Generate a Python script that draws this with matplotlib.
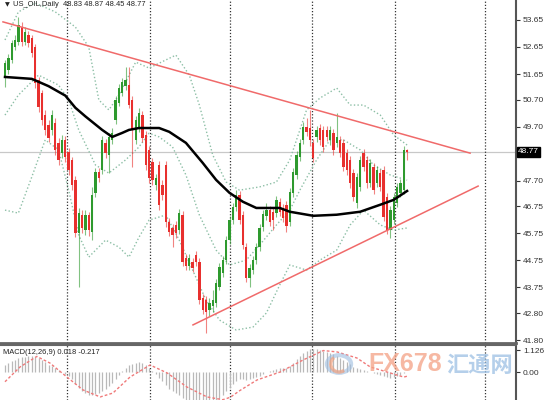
import matplotlib
matplotlib.use("Agg")
import matplotlib.pyplot as plt
from matplotlib.patches import Circle, Arc

plt.rcParams['font.family'] = ['Liberation Sans', 'DejaVu Sans']

# US_OIL daily candles
opens = [51.54, 51.80, 52.17, 52.65, 52.84, 53.39, 52.84, 53.10, 52.98, 52.65,
         51.43, 50.95, 50.14, 49.77, 49.58, 49.84, 49.10, 48.73, 49.21, 48.77,
         48.47, 47.73, 45.77, 46.44, 45.88, 46.44, 45.81, 47.25, 48.03, 48.10,
         49.10, 48.66, 49.21, 49.95, 50.58, 50.95, 51.21, 51.25, 50.69, 49.21,
         49.65, 50.14, 49.40, 48.84, 48.40, 47.55, 48.29, 47.55, 48.29, 46.18,
         45.95, 46.07, 45.88, 46.44, 44.84, 44.55, 44.70, 44.95, 44.70, 43.36,
         43.29, 42.92, 43.07, 43.18, 43.77, 44.29, 44.77, 45.51, 46.25, 46.73,
         47.18, 46.44, 45.25, 44.10, 44.40, 44.77, 45.25, 45.99, 46.40, 46.62,
         46.55, 46.51, 46.92, 46.70, 46.81, 46.18, 47.25, 47.92, 48.58, 49.21,
         49.69, 49.65, 49.10, 49.32, 49.65, 49.58, 49.58, 49.21, 49.47, 49.10,
         49.21, 49.10, 48.73, 48.47, 47.99, 46.88, 47.47, 48.73, 48.47, 47.62,
         48.21, 47.62, 47.99, 48.10, 47.10, 45.88, 46.25, 46.88, 47.25, 47.36,
         48.83]
highs = [52.17, 52.39, 52.91, 53.10, 53.76, 53.58, 53.39, 53.24, 53.10, 52.76,
         51.54, 51.06, 50.32, 49.95, 50.32, 50.02, 49.28, 49.40, 49.36, 48.91,
         48.58, 47.88, 46.69, 46.62, 46.62, 46.55, 47.47, 48.17, 48.17, 49.36,
         49.25, 49.47, 49.65, 50.84, 51.28, 51.50, 51.91, 51.91, 50.84, 50.10,
         50.40, 50.28, 49.54, 48.99, 48.55, 47.95, 48.43, 47.73, 48.43, 46.32,
         46.10, 46.21, 46.66, 46.58, 44.99, 44.99, 44.84, 45.10, 44.84, 43.51,
         43.44, 43.36, 43.66, 44.07, 44.66, 44.92, 45.66, 46.40, 46.88, 47.36,
         47.32, 46.58, 45.40, 44.62, 44.92, 45.40, 46.10, 46.62, 46.88, 46.77,
         46.69, 47.14, 47.07, 46.84, 46.95, 47.43, 48.17, 48.80, 49.25, 49.88,
         50.02, 50.32, 49.25, 49.73, 49.80, 49.73, 49.73, 49.73, 49.62, 50.21,
         49.36, 49.25, 48.88, 48.62, 48.14, 47.99, 48.62, 48.88, 48.62, 48.51,
         48.36, 48.25, 48.14, 48.25, 47.25, 46.77, 47.25, 47.62, 47.77, 48.99,
         48.87]
lows = [51.17, 51.65, 52.06, 52.54, 52.72, 52.69, 52.72, 52.65, 52.28, 51.13,
        50.25, 49.76, 49.40, 49.14, 49.40, 48.66, 48.29, 48.55, 48.40, 47.92,
        47.36, 45.62, 43.77, 45.77, 45.70, 45.66, 45.51, 47.10, 47.66, 47.95,
        48.55, 47.99, 49.06, 49.80, 50.47, 50.84, 51.06, 50.40, 48.21, 49.06,
        49.51, 49.14, 48.10, 47.62, 47.55, 47.36, 46.62, 46.99, 45.99, 45.66,
        45.25, 45.58, 45.73, 44.55, 44.40, 44.40, 44.33, 44.55, 43.14, 42.77,
        42.07, 42.70, 42.85, 43.03, 43.66, 44.14, 44.62, 45.36, 46.10, 46.58,
        46.10, 45.18, 43.96, 43.77, 44.25, 44.62, 45.10, 45.84, 46.25, 46.03,
        45.88, 46.36, 46.40, 46.18, 45.81, 46.03, 47.10, 47.77, 48.43, 49.06,
        49.36, 48.99, 48.40, 49.14, 49.03, 48.77, 49.17, 49.03, 48.66, 48.95,
        48.58, 48.06, 47.92, 47.43, 46.95, 46.69, 47.32, 48.06, 47.43, 47.47,
        47.21, 47.47, 47.32, 46.21, 45.73, 45.58, 46.10, 46.73, 47.10, 47.21,
        48.45]
closes = [52.06, 52.24, 52.80, 52.91, 53.47, 52.84, 53.21, 52.80, 52.43, 51.32,
          50.43, 49.95, 49.58, 49.28, 50.14, 48.84, 48.47, 49.21, 48.58, 48.10,
          47.55, 45.77, 46.51, 45.95, 46.44, 45.88, 47.18, 48.03, 47.80, 49.21,
          48.73, 49.32, 49.47, 50.69, 51.13, 51.36, 51.43, 50.51, 49.58, 49.95,
          50.21, 49.28, 48.29, 47.80, 47.73, 47.80, 46.81, 47.18, 46.18, 45.81,
          45.70, 45.77, 46.51, 44.70, 44.55, 44.84, 44.47, 44.70, 43.29, 42.92,
          42.85, 43.18, 43.29, 43.92, 44.51, 44.77, 45.51, 46.25, 46.73, 47.18,
          46.25, 45.33, 44.10, 44.47, 44.77, 45.25, 45.95, 46.47, 46.62, 46.18,
          46.25, 46.99, 46.55, 46.32, 46.03, 47.29, 48.03, 48.66, 49.10, 49.69,
          49.51, 49.21, 48.55, 49.58, 49.21, 48.95, 49.32, 49.58, 48.84, 49.32,
          48.73, 48.21, 48.10, 47.62, 47.10, 47.84, 48.47, 48.21, 47.62, 48.36,
          47.36, 48.10, 47.47, 46.36, 45.88, 46.62, 47.10, 47.47, 47.62, 48.84,
          48.77]

# moving average (black)
ma_idx = [0, 8, 13, 18, 21, 24, 29, 32, 35, 37, 40, 46, 49, 54, 59, 63, 67, 71,
          75, 82, 85, 92, 99, 106, 112, 116, 120]
ma_val = [51.54, 51.47, 51.20, 50.85, 50.40, 50.08, 49.58, 49.32, 49.47, 49.58,
          49.65, 49.65, 49.51, 49.10, 48.36, 47.73, 47.25, 46.92, 46.69, 46.69,
          46.55, 46.40, 46.44, 46.55, 46.81, 46.99, 47.32]

# bollinger bands (green dotted)
ub_idx = [0, 4, 9, 15, 21, 25, 28, 31, 34, 39, 43, 51, 55, 58, 62, 66, 70, 76,
          81, 85, 90, 94, 99, 103, 107, 112, 116, 120]
ub_val = [52.91, 53.95, 54.28, 53.95, 53.39, 52.65, 50.69, 50.32, 50.87, 52.09,
          51.87, 52.35, 51.61, 50.50, 48.65, 47.65, 47.35, 47.47, 47.65, 48.47,
          50.32, 50.76, 51.13, 50.50, 50.50, 50.13, 49.39, 49.02]
mb_idx = [0, 4, 10, 16, 19, 22, 27, 31, 36, 40, 43, 46, 50, 54, 58, 63, 67, 72,
          76, 81, 85, 88, 93, 97, 101, 106, 110, 115, 120]
mb_val = [50.13, 50.87, 51.61, 51.24, 50.69, 49.58, 48.28, 47.98, 48.47, 48.95,
          49.46, 49.32, 48.95, 47.91, 46.43, 45.13, 44.58, 44.76, 45.32, 46.06,
          46.61, 47.35, 48.47, 49.21, 49.21, 48.84, 48.28, 47.91, 47.72]
lb_idx = [0, 4, 8, 12, 16, 19, 22, 25, 30, 34, 37, 40, 43, 48, 52, 56, 60, 64,
          69, 74, 78, 82, 85, 90, 94, 99, 103, 107, 112, 116, 120]
lb_val = [46.61, 46.50, 47.84, 49.21, 48.84, 47.35, 45.69, 44.87, 45.50, 45.24,
          44.87, 45.61, 46.24, 46.43, 45.50, 44.39, 43.28, 42.54, 42.17, 42.28,
          42.80, 43.84, 44.58, 44.39, 44.76, 45.13, 46.06, 46.61, 46.06, 45.87,
          45.95]

# trend lines
upper_line_x = [-0.6, 138.8]
upper_line_y = [53.58, 48.72]
lower_line_x = [56.1, 141.2]
lower_line_y = [42.36, 47.50]

price_ticks = [53.65, 52.65, 51.65, 50.70, 49.70, 47.70, 46.75, 45.75, 44.75,
               43.75, 42.80, 41.80]
last_price = 48.77
sep_pos = [18.5, 43.3, 67.2, 91.6, 116.4, 143.3]

# MACD(12,26,9): main line as histogram, signal as red dotted
macd = [0.35, 0.45, 0.55, 0.62, 0.70, 0.75, 0.78, 0.80, 0.80, 0.78,
        0.72, 0.62, 0.50, 0.38, 0.30, 0.20, 0.10, 0.02, -0.08, -0.18,
        -0.35, -0.60, -0.80, -0.95, -1.10, -1.20, -1.20, -1.15, -1.10, -0.95,
        -0.85, -0.70, -0.55, -0.35, -0.15, 0.05, 0.20, 0.35, 0.42, 0.48,
        0.52, 0.48, 0.38, 0.22, 0.05, -0.10, -0.30, -0.45, -0.65, -0.85,
        -1.00, -1.10, -1.20, -1.35, -1.45, -1.55, -1.60, -1.65, -1.75, -1.80,
        -1.85, -1.80, -1.70, -1.55, -1.40, -1.20, -1.00, -0.80, -0.62, -0.48,
        -0.38, -0.36, -0.40, -0.38, -0.32, -0.25, -0.18, -0.10, -0.02, 0.05,
        0.10, 0.15, 0.18, 0.20, 0.22, 0.32, 0.48, 0.65, 0.82, 0.98,
        1.10, 1.18, 1.20, 1.18, 1.12, 1.08, 1.02, 0.96, 0.90, 0.82,
        0.72, 0.62, 0.52, 0.40, 0.28, 0.20, 0.15, 0.10, 0.05, 0.00,
        -0.05, -0.10, -0.14, -0.20, -0.28, -0.30, -0.26, -0.20, -0.14, -0.06,
        0.018]
sig_idx = [0, 4.5, 9.5, 13.4, 18.5, 23.3, 28.4, 32.2, 37.3, 43.3, 48.4, 54.3,
           60.3, 65, 67.2, 70.1, 75.2, 82.1, 89, 95, 99.1, 105, 109, 114, 119, 120]
sig_val = [-0.50, 0.26, 0.80, 0.46, -0.26, -0.92, -1.28, -1.08, -0.26, 0.36,
           -0.05, -0.77, -1.28, -1.42, -1.30, -0.95, -0.41, 0.0, 0.62, 1.10,
           1.03, 0.72, 0.26, 0.0, -0.26, -0.217]

UP = '#2e9a2e'
DOWN = '#e8302e'

fig = plt.figure(figsize=(5.49, 4.0), dpi=100)
ax = fig.add_axes([0, 57 / 400, 516 / 549, 343 / 400])
ax2 = fig.add_axes([0, 0, 516 / 549, 55 / 400])

n = len(closes)
idx = list(range(n))
for i in idx:
    c = UP if closes[i] >= opens[i] else DOWN
    ax.vlines(i, lows[i], highs[i], color=c, lw=0.8, alpha=0.6, zorder=3)
    lo, hi = min(opens[i], closes[i]), max(opens[i], closes[i])
    ax.bar(i, max(hi - lo, 0.03), bottom=lo, width=0.7, color=c, lw=0, zorder=4)

band = dict(color='#8dbfa6', lw=1.0, ls=(0, (1, 1.6)), zorder=2)
ax.plot(ub_idx, ub_val, **band)
ax.plot(mb_idx, mb_val, **band)
ax.plot(lb_idx, lb_val, **band)
ax.plot(ma_idx, ma_val, color='black', lw=1.8, zorder=5)
ax.plot(upper_line_x, upper_line_y, color='#f06a6a', lw=1.1, zorder=6)
ax.plot(lower_line_x, lower_line_y, color='#f06a6a', lw=1.1, zorder=6)
ax.axhline(last_price, color='#c8c8c8', lw=0.9, zorder=1)

for a in (ax, ax2):
    for s in sep_pos:
        a.axvline(s, color='#333333', lw=0.9, ls=(0, (1, 1.5)), zorder=1)
    a.set_xlim(-1.49, 152.5)
    a.set_xticks([])
    a.yaxis.tick_right()
    a.tick_params(axis='y', labelsize=6, length=3, width=0.8, pad=2,
                  colors='#333333')
    a.spines['top'].set_visible(False)
    a.spines['left'].set_visible(False)
    a.spines['right'].set_color('#555555')
    a.spines['right'].set_linewidth(1.5)
    a.patch.set_alpha(0)

ax.spines['bottom'].set_color('#666666')
ax.spines['bottom'].set_linewidth(2)
ax2.spines['bottom'].set_visible(False)
ax2.spines['top'].set_visible(True)
ax2.spines['top'].set_color('#666666')
ax2.spines['top'].set_linewidth(1.5)

ax.set_ylim(41.69, 54.39)
ax.set_yticks(price_ticks)
ax.set_yticklabels([f'{v:.2f}' for v in price_ticks])
ax.text(1.004, last_price, f'{last_price:.2f}', transform=ax.get_yaxis_transform(),
        fontsize=6, color='white', va='center', ha='left',
        bbox=dict(boxstyle='square,pad=0.15', fc='black', ec='black'))

ax2.vlines(idx, 0, macd, color='#b9b9b9', lw=0.9, zorder=2)
ax2.plot(sig_idx, sig_val, color='#f07a7a', lw=1.0, ls=(0, (2, 1.5)), zorder=3)
ax2.set_ylim(-1.436, 1.385)
ax2.set_yticks([1.126, 0.0])
ax2.set_yticklabels(['1.126', '0.00'])

fig.text(5 / 549, 1 - 5 / 400, '\u25bc', fontsize=4.5, color='#222222',
         va='center', ha='left', family='DejaVu Sans')
fig.text(13 / 549, 1 - 5 / 400, 'US_OIL,Daily  48.83 48.87 48.45 48.77',
         fontsize=5.4, color='#222222', va='center', ha='left')
fig.text(3 / 549, 1 - 352 / 400, 'MACD(12,26,9) 0.018 -0.217',
         fontsize=5.4, color='#222222', va='center', ha='left')

# watermark
fig.patches.append(Circle((339 / 549, 1 - 364 / 400), 0.022, transform=fig.transFigure,
                          fill=False, ec='#9dbde0', lw=3, alpha=0.6))
fig.patches.append(Arc((339 / 549, 1 - 364 / 400), 0.03, 0.04, theta1=120, theta2=300,
                       transform=fig.transFigure, ec='#f2a27f', lw=2.5, alpha=0.7))
fig.text(368 / 549, 1 - 364 / 400, 'FX678', fontsize=18, fontweight='bold',
         color='#f4a184', alpha=0.75, va='center', ha='left')
fig.text(446 / 549, 1 - 365 / 400, '汇通网', fontsize=16, fontweight='bold',
         color='#9cc0e4', alpha=0.75, va='center', ha='left',
         family=['Noto Sans CJK SC', 'DejaVu Sans'])

fig.savefig('out.png', dpi=100)
